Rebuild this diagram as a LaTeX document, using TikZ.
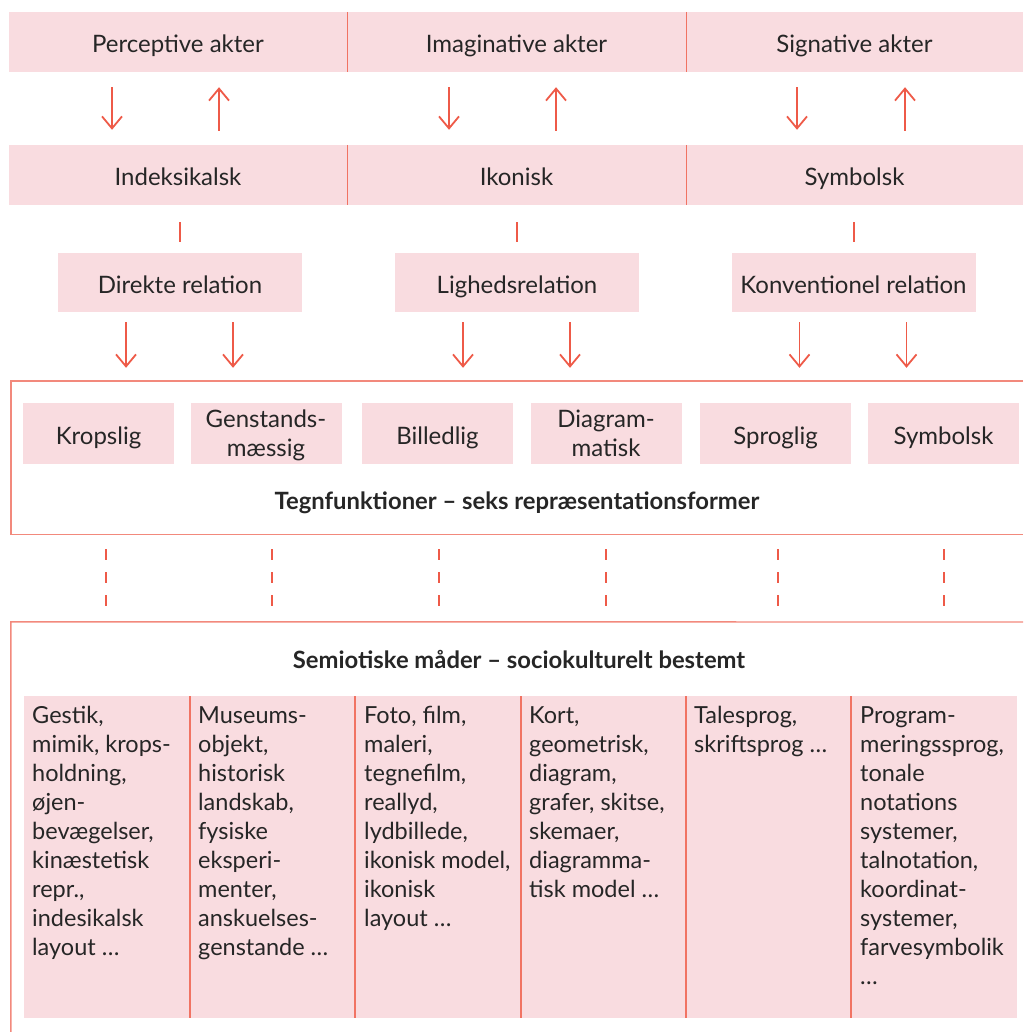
\documentclass[tikz,border=0pt]{standalone}
\usepackage{fontspec}
\setmainfont{Lato}
\usepackage{xcolor}
\definecolor{semPink}{HTML}{F9DCE0}
\definecolor{semRed}{HTML}{EE5A48}
\definecolor{semLine}{HTML}{F2897C}
\definecolor{semText}{HTML}{262626}
\usetikzlibrary{arrows.meta,positioning,calc}
\tikzset{
    band/.style={
        fill=semPink,
        rectangle,
        inner sep=0pt,
        minimum height=60pt,
        text height=22pt,
        text depth=1pt,
        text=semText,
        font=\fontsize{24}{29}\selectfont
    },
    relbox/.style={
        band,
        minimum width=244pt,
        minimum height=59pt
    },
    repbox/.style={
        band,
        align=center,
        minimum width=151pt,
        minimum height=61pt
    },
    repboxtwo/.style={
        repbox,
        text height=51pt,
        text depth=5pt
    },
    colbox/.style={
        fill=semPink,
        rectangle,
        inner sep=0pt,
        minimum height=322pt
    },
    coltext/.style={
        anchor=north west,
        inner sep=0pt,
        align=left,
        text=semText,
        font=\fontsize{23.5}{29}\selectfont
    },
    title/.style={
        text=semText,
        font=\bfseries\fontsize{23.8}{28}\selectfont
    },
    arr/.style={
        -{Straight Barb[length=12pt,width=20pt]},
        line width=1.8pt,
        draw=semRed
    },
    tick/.style={
        line width=1.8pt,
        draw=semRed
    },
    dashlink/.style={
        line width=1.8pt,
        draw=semRed,
        dash pattern=on 11pt off 12pt
    },
    divider/.style={
        line width=1.3pt,
        draw=semRed!85
    },
    frame/.style={
        line width=1.4pt,
        draw=semLine
    }
}
\begin{document}
\begin{tikzpicture}[x=1pt,y=-1pt]
    \useasboundingbox (0,0) rectangle (1023,1032);

    % Akter
    \node[band, minimum width=338pt] (perc) at (178,42) {Perceptive akter};
    \node[band, minimum width=339pt] (imag) at (516.5,42) {Imaginative akter};
    \node[band, minimum width=337pt] (sign) at (854.5,42) {Signative akter};
    \draw[divider] (perc.north east) -- (perc.south east);
    \draw[divider] (imag.north east) -- (imag.south east);

    % Tegntyper
    \node[band, minimum width=338pt] (index) at (178,175) {Indeksikalsk};
    \node[band, minimum width=339pt] (icon) at (516.5,175) {Ikonisk};
    \node[band, minimum width=337pt] (symb) at (854.5,175) {Symbolsk};
    \draw[divider] (index.north east) -- (index.south east);
    \draw[divider] (icon.north east) -- (icon.south east);

    % Relationer
    \node[relbox] (direct) at (180,282.5) {Direkte relation};
    \node[relbox] (similar) at (517,282.5) {Lighedsrelation};
    \node[relbox] (convent) at (853.5,282.5) {Konventionel relation};

    % Arrows between akter and tegntyper
    \draw[arr, shorten <=15pt, shorten >=15pt] ([xshift=-66pt]perc.south) -- ([xshift=-66pt]index.north);
    \draw[arr, shorten <=14pt, shorten >=15pt] ([xshift=41pt]index.north) -- ([xshift=41pt]perc.south);
    \draw[arr, shorten <=15pt, shorten >=15pt] ([xshift=-67.5pt]imag.south) -- ([xshift=-67.5pt]icon.north);
    \draw[arr, shorten <=14pt, shorten >=15pt] ([xshift=39.5pt]icon.north) -- ([xshift=39.5pt]imag.south);
    \draw[arr, shorten <=15pt, shorten >=15pt] ([xshift=-57.5pt]sign.south) -- ([xshift=-57.5pt]symb.north);
    \draw[arr, shorten <=14pt, shorten >=15pt] ([xshift=50.5pt]symb.north) -- ([xshift=50.5pt]sign.south);

    % Ticks to relationer
    \draw[tick, shorten <=17pt, shorten >=11pt] (index.south -| direct.north) -- (direct.north);
    \draw[tick, shorten <=17pt, shorten >=11pt] (icon.south -| similar.north) -- (similar.north);
    \draw[tick, shorten <=17pt, shorten >=11pt] ([xshift=0.5pt]symb.south -| convent.north) -- ([xshift=0.5pt]convent.north);

    % Tegnfunktioner
    \node[minimum width=1012pt, minimum height=153pt, inner sep=0pt] (tegnbox) at (517,457.5) {};
    \draw[frame] (tegnbox.north east) -- (tegnbox.north west) -- (tegnbox.south west) -- (tegnbox.south east);
    \node[repbox] (krop) at (98.5,433.5) {Kropslig};
    \node[repboxtwo] (genst) at (266,433.5) {Genstands-\\mæssig};
    \node[repbox] (bill) at (437.5,433.5) {Billedlig};
    \node[repboxtwo] (diag) at (606,433.5) {Diagram-\\matisk};
    \node[repbox] (sprog) at (775.5,433.5) {Sproglig};
    \node[repbox] (symrep) at (943.5,433.5) {Symbolsk};
    \node[title] (tegntitle) at (517,503) {Tegnfunktioner -- seks repræsentationsformer};

    % Arrows from relationer
    \foreach \rel in {direct, similar, convent} {
        \draw[arr, shorten <=10pt, shorten >=13pt] ([xshift=-54pt]\rel.south) -- ([xshift=-54pt]\rel.south |- tegnbox.north);
        \draw[arr, shorten <=10pt, shorten >=13pt] ([xshift=53pt]\rel.south) -- ([xshift=53pt]\rel.south |- tegnbox.north);
    }

    % Semiotiske maader
    \node[minimum width=1030pt, minimum height=420pt, inner sep=0pt] (semiobox) at (526,832) {};
    \draw[frame] (1023,622) -- (semiobox.north west) -- (semiobox.south west);
    \node[title] (semiotitle) at (519,659) {Semiotiske måder -- sociokulturelt bestemt};

    % Dashed links
    \foreach \rep/\dx in {krop/7.5, genst/6, bill/1.5, diag/0, sprog/2.5, symrep/0.5} {
        \draw[dashlink, shorten <=15pt, shorten >=12pt] ([xshift=\dx pt]\rep.south |- tegnbox.south) -- ([xshift=\dx pt]\rep.south |- semiobox.north);
    }

    % Columns
    \node[colbox, minimum width=993pt] (cols) at (520.5,857) {};
    \foreach \x in {190,355,521,686,851} {
        \draw[divider] (\x,696) -- (\x,1018);
    }
    \node[coltext] (c1) at (32,706) {Gestik,\\mimik, krops-\\holdning,\\øjen-\\bevægelser,\\kinæstetisk\\repr.,\\indesikalsk\\layout \dots};
    \node[coltext] (c2) at (198,706) {Museums-\\objekt,\\historisk\\landskab,\\fysiske\\eksperi-\\menter,\\anskuelses-\\genstande \dots};
    \node[coltext] (c3) at (364,706) {Foto, film,\\maleri,\\tegnefilm,\\reallyd,\\lydbillede,\\ikonisk model,\\ikonisk\\layout \dots};
    \node[coltext] (c4) at (529,706) {Kort,\\geometrisk,\\diagram,\\grafer, skitse,\\skemaer,\\diagramma-\\tisk model \dots};
    \node[coltext] (c5) at (694,706) {Talesprog,\\skriftsprog \dots};
    \node[coltext] (c6) at (860,706) {Program-\\meringssprog,\\tonale\\notations\\systemer,\\talnotation,\\koordinat-\\systemer,\\farvesymbolik\\\dots};
\end{tikzpicture}
\end{document}
